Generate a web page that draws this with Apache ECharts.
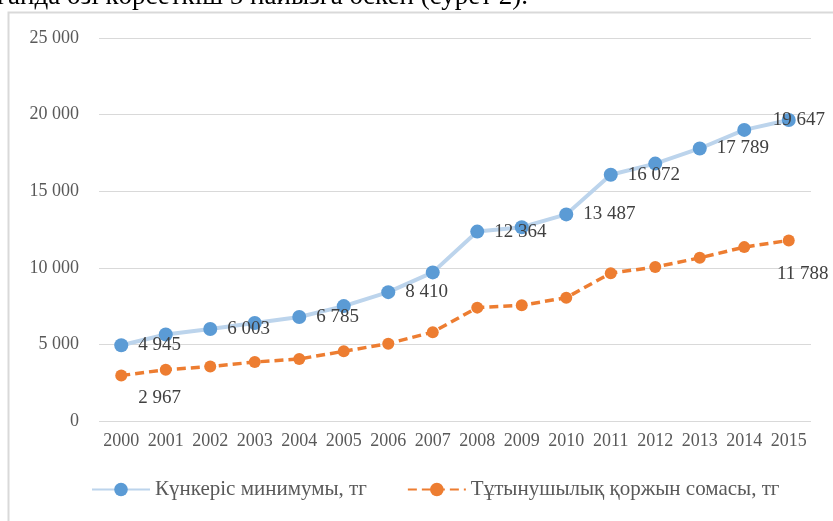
<!DOCTYPE html>
<html>
<head>
<meta charset="utf-8">
<script src="https://cdn.jsdelivr.net/npm/echarts@6/dist/echarts.min.js"></script>
<style>
  html, body { margin: 0; padding: 0; background: #fff; }
  #chart { width: 833px; height: 521px; }
</style>
</head>
<body>
<div id="chart"></div>
<script>
// data
var years = ['2000', '2001', '2002', '2003', '2004', '2005', '2006', '2007',
             '2008', '2009', '2010', '2011', '2012', '2013', '2014', '2015'];
var minimum = [4945, 5650, 6003, 6400, 6785, 7500, 8410, 9700,
               12364, 12650, 13487, 16072, 16800, 17789, 19000, 19647];
var basket = [2967, 3350, 3550, 3850, 4050, 4550, 5050, 5800,
              7400, 7550, 8050, 9650, 10050, 10650, 11350, 11788];
var minimumLabeled = [0, 2, 4, 6, 8, 10, 11, 13, 15];
var basketLabeled = [0, 15];
var yTicks = [0, 5000, 10000, 15000, 20000, 25000];

var serif = '"Liberation Serif", "DejaVu Serif", serif';

function fmt(v) {
  var s = String(v);
  return s.length > 3 ? s.slice(0, s.length - 3) + ' ' + s.slice(-3) : s;
}

// labels for the blue line
var minData = minimum.map(function (v, i) {
  var d = { value: v };
  if (minimumLabeled.indexOf(i) >= 0) {
    d.label = { show: true, position: 'right', distance: 10 };
    if (i === minimum.length - 1) d.label.offset = [-33, 0];
  }
  return d;
});

// labels for the orange line
var basketData = basket.map(function (v, i) {
  var d = { value: v };
  if (basketLabeled.indexOf(i) >= 0) {
    if (i === 0) d.label = { show: true, position: 'right', distance: 11, offset: [0, 22] };
    else d.label = { show: true, position: 'bottom', distance: 10, offset: [14, 8] };
  }
  return d;
});

var chart = echarts.init(document.getElementById('chart'));
chart.setOption({
  animation: false,
  textStyle: { fontFamily: serif },
  graphic: [
    {
      type: 'rect',
      shape: { x: 8.5, y: 12.5, width: 840, height: 520 },
      style: { fill: 'none', stroke: '#d9d9d9', lineWidth: 2 },
      silent: true
    },
    {
      type: 'text',
      left: -3,
      top: -17,
      style: {
        text: 'ғанда өзі көрсеткіш 5 пайызға өскен (сурет 2).',
        font: '27px ' + serif,
        fill: '#000'
      },
      silent: true
    }
  ],
  grid: { left: 99, right: 22, top: 38, bottom: 100 },
  legend: {
    left: 86,
    bottom: 16,
    itemWidth: 58,
    itemHeight: 17,
    itemGap: 40,
    textStyle: { fontFamily: serif, fontSize: 21, color: '#595959' },
    data: ['Күнкеріс минимумы, тг', 'Тұтынушылық қоржын сомасы, тг']
  },
  xAxis: {
    type: 'category',
    data: years,
    boundaryGap: true,
    axisLine: { show: false },
    axisTick: { show: false },
    axisLabel: { interval: 0, margin: 11, fontFamily: serif, fontSize: 18, color: '#595959' }
  },
  yAxis: {
    type: 'value',
    min: yTicks[0],
    max: yTicks[yTicks.length - 1],
    interval: 5000,
    axisLine: { show: false },
    axisTick: { show: false },
    axisLabel: { margin: 20, fontFamily: serif, fontSize: 18, color: '#595959', formatter: fmt },
    splitLine: { lineStyle: { color: '#d9d9d9', width: 1 } }
  },
  series: [
    {
      name: 'Күнкеріс минимумы, тг',
      type: 'line',
      data: minData,
      symbol: 'circle',
      symbolSize: 14,
      itemStyle: { color: '#5b9bd5' },
      lineStyle: { color: '#bcd4ec', width: 4 },
      label: {
        show: false,
        fontFamily: serif,
        fontSize: 19,
        color: '#404040',
        formatter: function (p) { return fmt(p.value); }
      },
      z: 3
    },
    {
      name: 'Тұтынушылық қоржын сомасы, тг',
      type: 'line',
      data: basketData,
      symbol: 'circle',
      symbolSize: 12,
      itemStyle: { color: '#ed7d31' },
      lineStyle: { color: '#ed7d31', width: 3.5, type: [9, 5] },
      label: {
        show: false,
        fontFamily: serif,
        fontSize: 19,
        color: '#404040',
        formatter: function (p) { return fmt(p.value); }
      },
      z: 2
    }
  ]
});
</script>
</body>
</html>
